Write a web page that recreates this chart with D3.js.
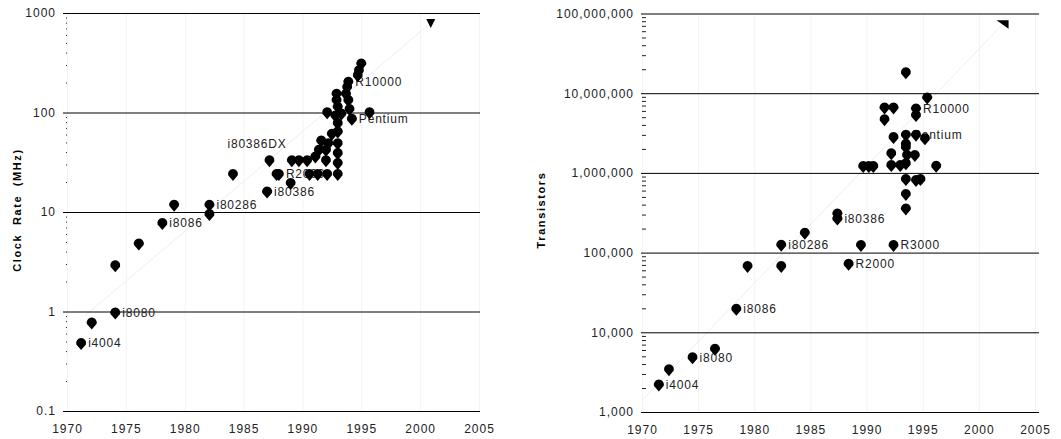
<!DOCTYPE html>
<html>
<head>
<meta charset="utf-8">
<script src="https://cdn.jsdelivr.net/npm/d3@7"></script>
<style>
body { margin: 0; background: #fff; }
svg text { font-family: "Liberation Sans", Arial, sans-serif; }
.tick text { font-size: 12px; fill: #222; letter-spacing: 1px; }
.ptlabel { font-size: 12px; fill: #222; letter-spacing: 0.8px; }
.ytitle { font-size: 11px; font-weight: bold; fill: #000; letter-spacing: 1.6px; word-spacing: 4px; }
</style>
</head>
<body>
<svg id="chart" width="1061" height="439"></svg>
<script>
// x axis (both panels)
var yearTicks = [1970, 1975, 1980, 1985, 1990, 1995, 2000, 2005];

// left panel: clock rate
var clockTicks = [0.1, 1, 10, 100, 1000];
var clockTickLabels = ['0.1', '1', '10', '100', '1000'];
var clockYear = [1971.2, 1972.1, 1974.1, 1974.1, 1976.1, 1978.1, 1979.1, 1982.1, 1982.1, 1984.1,
  1987.0, 1987.2, 1987.8, 1988.0, 1989.0, 1989.1, 1989.7, 1990.4, 1990.6, 1991.3,
  1992.1, 1993.0, 1991.1, 1991.4, 1991.6, 1992.0, 1992.0, 1992.2, 1992.5, 1993.0,
  1993.0, 1993.0, 1993.0, 1993.0, 1992.1, 1992.8, 1993.3, 1992.9, 1992.9, 1993.0,
  1993.9, 1994.0, 1994.2, 1993.9, 1993.8, 1993.7, 1994.7, 1994.8, 1995.0, 1995.7];
var clockMHz = [0.48, 0.77, 0.97, 2.9, 4.8, 7.7, 11.8, 11.8, 9.5, 24,
  16, 33, 24, 24, 19.5, 33, 33, 33, 24, 24,
  24, 24, 36, 42, 52, 33, 42, 49, 61, 31,
  39, 49, 64, 78, 100, 93, 97, 154, 133, 114,
  133, 108, 86, 203, 180, 154, 236, 264, 310, 100];
var clockNames = ['i4004', 'i8080', 'i8086', 'i80286', 'i80386', 'i80386DX', 'R2000', 'Pentium', 'R10000'];
var clockNameIdx = [0, 2, 5, 7, 10, 11, 13, 42, 43];
var clockTrend = [[1971.5, 0.9], [2000.9, 793]];

// right panel: transistors
var transTicks = [1e3, 1e4, 1e5, 1e6, 1e7, 1e8];
var transTickLabels = ['1,000', '10,000', '100,000', '1,000,000', '10,000,000', '100,000,000'];
var transYear = [1971.5, 1972.4, 1974.5, 1976.5, 1978.4, 1979.4, 1982.4, 1982.4, 1984.5, 1987.4,
  1987.4, 1988.4, 1989.5, 1992.4, 1993.5, 1993.5, 1993.5, 1994.4, 1994.8, 1989.7,
  1990.2, 1990.6, 1992.2, 1993.0, 1993.5, 1996.2, 1992.2, 1993.6, 1994.3, 1993.5,
  1993.5, 1993.5, 1992.4, 1994.4, 1995.2, 1991.6, 1991.6, 1992.4, 1994.4, 1994.4,
  1995.4, 1993.5];
var transCount = [2200, 3430, 4820, 6170, 19600, 67700, 125000, 67700, 177000, 308000,
  266000, 72000, 124000, 124000, 356000, 541000, 834000, 812000, 834000, 1210000,
  1210000, 1210000, 1250000, 1250000, 1310000, 1220000, 1750000, 1670000, 1670000, 2100000,
  2300000, 3000000, 2800000, 3000000, 2700000, 4700000, 6600000, 6600000, 6400000, 5300000,
  8800000, 18200000];
var transNames = ['i4004', 'i8080', 'i8086', 'i80286', 'i80386', 'R2000', 'R3000', 'Pentium', 'R10000'];
var transNameIdx = [0, 2, 4, 6, 10, 11, 13, 31, 38];
var transTrend = [[1970, 1400], [2002.2, 75.4e6]];

// label nudges (px) for labels not placed right of their point
var labelShift = { 'i80386DX': [-49, -17] };

var drop = "M-4.8,1.2A5,5 0 1 1 4.8,1.2L0,6.8Z";
var svg = d3.select('#chart');

function minorTicks(dom) {
  var out = [];
  for (var e = Math.log10(dom[0]); e < Math.log10(dom[1]); e++) {
    for (var k = 2; k < 10; k++) out.push(k * Math.pow(10, e));
  }
  return out;
}

function drawPanel(p) {
  var x = d3.scaleLinear().domain([1970, 2005]).range(p.xr);
  var y = d3.scaleLog().domain([p.ticks[0], p.ticks[p.ticks.length - 1]]).range(p.yr);
  var g = svg.append('g');
  var pts = p.years.map(function(d, i) { return { year: d, v: p.vals[i] }; });

  // faint vertical grid
  g.append('g')
  .attr('transform', 'translate(0,' + p.yr[0] + ')')
  .call(d3.axisBottom(x).tickValues(yearTicks).tickSize(-(p.yr[0] - p.yr[1])).tickFormat(''))
  .call(function(s) { s.select('.domain').remove(); })
  .selectAll('line').attr('stroke', '#f3f3f3');

  // year labels
  g.append('g')
  .attr('transform', 'translate(0,' + p.yr[0] + ')')
  .call(d3.axisBottom(x).tickValues(yearTicks).tickSize(0).tickPadding(13).tickFormat(d3.format('d')))
  .call(function(s) { s.select('.domain').remove(); });

  // trend
  g.append('path')
  .datum(p.trend)
  .attr('d', d3.line().x(function(d) { return x(d[0]); }).y(function(d) { return y(d[1]); }))
  .attr('fill', 'none')
  .attr('stroke', '#ededed');

  // horizontal grid + value labels
  g.append('g')
  .attr('transform', 'translate(' + p.gx[0] + ',0)')
  .call(d3.axisLeft(y).tickValues(p.ticks).tickSize(-(p.gx[1] - p.gx[0])).tickPadding(7)
    .tickFormat(function(d, i) { return p.tickLabels[i]; }))
  .call(function(s) { s.select('.domain').remove(); })
  .selectAll('line').attr('stroke', '#000');

  // minor ticks
  g.append('g')
  .attr('transform', 'translate(' + p.minorX + ',0)')
  .call(d3.axisLeft(y).tickValues(minorTicks(y.domain())).tickSize(p.minorLen).tickFormat(''))
  .call(function(s) { s.select('.domain').remove(); })
  .selectAll('line').attr('stroke', '#222');

  // point labels (drawn under the markers)
  g.append('g')
  .selectAll('text')
  .data(p.names)
  .enter().append('text')
  .attr('class', 'ptlabel')
  .attr('x', function(d, i) { var s = labelShift[d] || [0, 0]; return x(pts[p.nameIdx[i]].year) + 7 + s[0]; })
  .attr('y', function(d, i) { var s = labelShift[d] || [0, 0]; return y(pts[p.nameIdx[i]].v) + s[1]; })
  .attr('dy', '0.35em')
  .text(function(d) { return d; });

  // markers
  g.append('g')
  .selectAll('path')
  .data(pts)
  .enter().append('path')
  .attr('d', drop)
  .attr('transform', function(d) { return 'translate(' + x(d.year) + ',' + y(d.v) + ')'; })
  .attr('fill', '#000');

  // end-of-trend marker
  var end = p.trend[1];
  g.append('path')
  .attr('d', p.endShape)
  .attr('transform', 'translate(' + x(end[0]) + ',' + y(end[1]) + ')')
  .attr('fill', '#000');

  // y title
  g.append('text')
  .attr('class', 'ytitle')
  .attr('transform', 'translate(' + p.titleX + ',210) rotate(-90)')
  .attr('text-anchor', 'middle')
  .attr('dy', '0.35em')
  .text(p.title);
}

drawPanel({
  xr: [67, 479], yr: [411, 13], gx: [63, 480], minorX: 67, minorLen: 1,
  ticks: clockTicks, tickLabels: clockTickLabels,
  years: clockYear, vals: clockMHz, names: clockNames, nameIdx: clockNameIdx,
  trend: clockTrend, endShape: "M-4.5,-4L4.5,-4L0,5Z",
  title: 'Clock Rate (MHz)', titleX: 17
});

drawPanel({
  xr: [642, 1035], yr: [412, 13.5], gx: [641, 1039], minorX: 642, minorLen: -4,
  ticks: transTicks, tickLabels: transTickLabels,
  years: transYear, vals: transCount, names: transNames, nameIdx: transNameIdx,
  trend: transTrend, endShape: "M-7,-3L5,-3L5,5.5Z",
  title: 'Transistors', titleX: 541
});
</script>
</body>
</html>
